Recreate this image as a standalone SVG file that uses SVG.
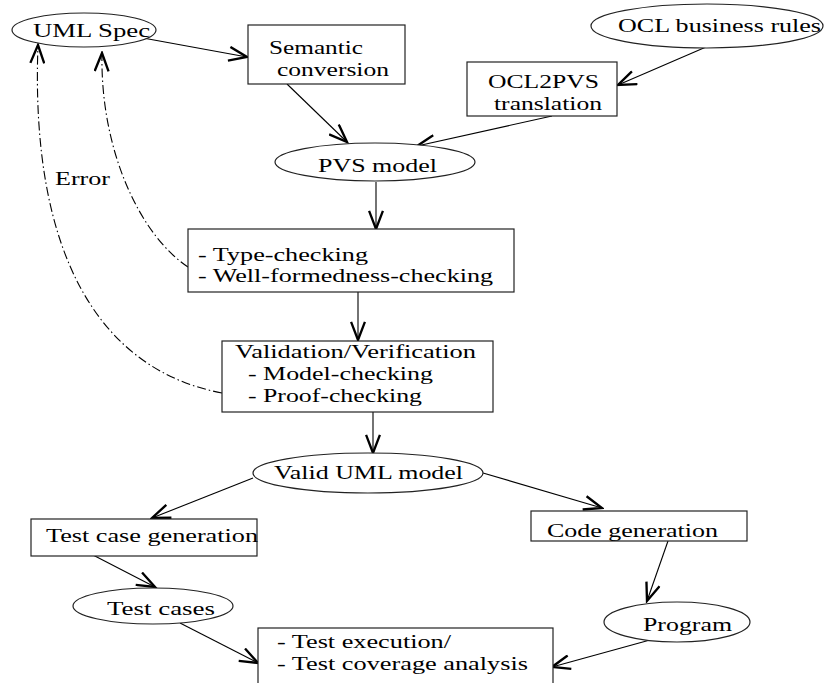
<svg xmlns="http://www.w3.org/2000/svg" width="824" height="683" viewBox="0 0 824 683">
  <style>
    .box { fill: #fff; stroke: #222; stroke-width: 1.2; }
    .lbl { font-family: "Liberation Serif", "Times New Roman", serif; font-size: 19px; fill: #000; }
    .edge { fill: none; stroke: #000; stroke-width: 1.1; }
    .err { fill: none; stroke: #000; stroke-width: 1.1; stroke-dasharray: 9 3 1.5 3; }
  </style>
  <defs>
    <marker id="vhead" markerUnits="userSpaceOnUse" markerWidth="22" markerHeight="16" viewBox="-1 -1 20 15" refX="17" refY="6.5" orient="auto">
      <path d="M0,0 L17,6.5 L0,13" fill="none" stroke="#000" stroke-width="2.2"/>
    </marker>
  </defs>
  <rect width="824" height="683" fill="#fff"/>

  <g id="connectors">
    <line class="edge" x1="143" y1="38" x2="247" y2="57" marker-end="url(#vhead)"/>
    <line class="edge" x1="287" y1="84" x2="347" y2="142" marker-end="url(#vhead)"/>
    <line class="edge" x1="706" y1="47" x2="618" y2="85" marker-end="url(#vhead)"/>
    <line class="edge" x1="552" y1="116" x2="417" y2="146" marker-end="url(#vhead)"/>
    <line class="edge" x1="376" y1="182" x2="376" y2="229" marker-end="url(#vhead)"/>
    <line class="edge" x1="358" y1="292" x2="358" y2="340" marker-end="url(#vhead)"/>
    <line class="edge" x1="373" y1="412" x2="373" y2="453" marker-end="url(#vhead)"/>
    <line class="edge" x1="253" y1="478" x2="152" y2="518" marker-end="url(#vhead)"/>
    <line class="edge" x1="91" y1="554" x2="155" y2="587" marker-end="url(#vhead)"/>
    <line class="edge" x1="180" y1="623" x2="258" y2="663" marker-end="url(#vhead)"/>
    <line class="edge" x1="483" y1="473" x2="602" y2="508" marker-end="url(#vhead)"/>
    <line class="edge" x1="668" y1="541" x2="647" y2="601" marker-end="url(#vhead)"/>
    <line class="edge" x1="650" y1="640" x2="552" y2="667" marker-end="url(#vhead)"/>
    <!-- error feedback paths back to the UML specification -->
    <path class="err" d="M222,393 C100,370 30,255 38,45" marker-end="url(#vhead)"/>
    <path class="err" d="M188,267 C140,235 100,150 102,53" marker-end="url(#vhead)"/>
    <text class="lbl" x="55" y="185" textLength="55" lengthAdjust="spacingAndGlyphs">Error</text>
  </g>

  <g id="uml-spec">
    <ellipse class="box" cx="84" cy="30" rx="72" ry="17"/>
    <text class="lbl" x="33" y="37" textLength="117" lengthAdjust="spacingAndGlyphs">UML Spec</text>
  </g>

  <g id="semantic-conversion">
    <rect class="box" x="248" y="25" width="157" height="59"/>
    <text class="lbl" x="269" y="54" textLength="94" lengthAdjust="spacingAndGlyphs">Semantic</text>
    <text class="lbl" x="277" y="76" textLength="112" lengthAdjust="spacingAndGlyphs">conversion</text>
  </g>

  <g id="ocl-rules">
    <ellipse class="box" cx="707" cy="26" rx="116" ry="22"/>
    <text class="lbl" x="618" y="32" textLength="203" lengthAdjust="spacingAndGlyphs">OCL business rules</text>
  </g>

  <g id="ocl2pvs">
    <rect class="box" x="467" y="62" width="150" height="54"/>
    <text class="lbl" x="488" y="88" textLength="111" lengthAdjust="spacingAndGlyphs">OCL2PVS</text>
    <text class="lbl" x="494" y="110" textLength="108" lengthAdjust="spacingAndGlyphs">translation</text>
  </g>

  <g id="pvs-model">
    <ellipse class="box" cx="375" cy="162" rx="100" ry="19"/>
    <text class="lbl" x="318" y="172" textLength="119" lengthAdjust="spacingAndGlyphs">PVS model</text>
  </g>

  <g id="type-checking">
    <rect class="box" x="188" y="229" width="326" height="63"/>
    <text class="lbl" x="198" y="261" textLength="170" lengthAdjust="spacingAndGlyphs">- Type-checking</text>
    <text class="lbl" x="198" y="282" textLength="295" lengthAdjust="spacingAndGlyphs">- Well-formedness-checking</text>
  </g>

  <g id="validation">
    <rect class="box" x="222" y="341" width="271" height="71"/>
    <text class="lbl" x="235" y="358" textLength="241" lengthAdjust="spacingAndGlyphs">Validation/Verification</text>
    <text class="lbl" x="248" y="380" textLength="185" lengthAdjust="spacingAndGlyphs">- Model-checking</text>
    <text class="lbl" x="248" y="402" textLength="174" lengthAdjust="spacingAndGlyphs">- Proof-checking</text>
  </g>

  <g id="valid-uml-model">
    <ellipse class="box" cx="368" cy="473" rx="115" ry="20"/>
    <text class="lbl" x="274" y="479" textLength="189" lengthAdjust="spacingAndGlyphs">Valid UML model</text>
  </g>

  <g id="test-case-generation">
    <rect class="box" x="31" y="519" width="226" height="37"/>
    <text class="lbl" x="46" y="542" textLength="212" lengthAdjust="spacingAndGlyphs">Test case generation</text>
  </g>

  <g id="test-cases">
    <ellipse class="box" cx="153" cy="606" rx="80" ry="18"/>
    <text class="lbl" x="107" y="615" textLength="108" lengthAdjust="spacingAndGlyphs">Test cases</text>
  </g>

  <g id="code-generation">
    <rect class="box" x="531" y="511" width="216" height="30"/>
    <text class="lbl" x="547" y="537" textLength="171" lengthAdjust="spacingAndGlyphs">Code generation</text>
  </g>

  <g id="program">
    <ellipse class="box" cx="677" cy="622" rx="73" ry="20"/>
    <text class="lbl" x="643" y="631" textLength="89" lengthAdjust="spacingAndGlyphs">Program</text>
  </g>

  <g id="test-execution">
    <rect class="box" x="258" y="628" width="295" height="80"/>
    <text class="lbl" x="277" y="648" textLength="174" lengthAdjust="spacingAndGlyphs">- Test execution/</text>
    <text class="lbl" x="277" y="670" textLength="251" lengthAdjust="spacingAndGlyphs">- Test coverage analysis</text>
  </g>
</svg>
